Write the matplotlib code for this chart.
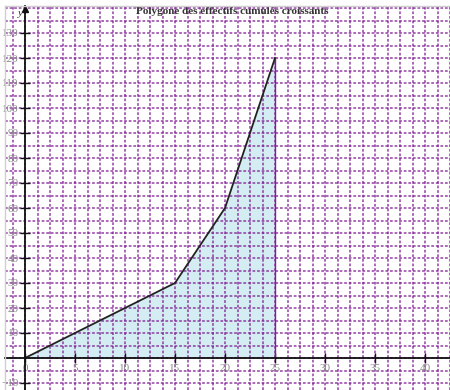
import matplotlib.pyplot as plt
import numpy as np

# effectifs cumulés croissants
bornes = [0, 15, 20, 25]
effectifs_cumules = [0, 30, 60, 120]

x_ticks = [0, 5, 10, 15, 20, 25, 30, 35, 40]
y_ticks = [-10, 10, 20, 30, 40, 50, 60, 70, 80, 90, 100, 110, 120, 130]

violet = "#801f94"
gris = "#8a8a8a"

fig = plt.figure(figsize=(4.5, 3.9), dpi=100)
ax = fig.add_axes([5 / 450, 0, 445 / 450, 384 / 390])
ax.set_xlim(-2.0, 42.5)
ax.set_ylim(-12.8, 140.8)

# quadrillage en pointillés
for gx in np.arange(-1.25, 43, 1.25):
    ax.axvline(gx, color=violet, lw=1.1, ls=(0, (1.8, 1.2)), alpha=0.85, zorder=1)
for gy in np.arange(-10, 141, 5):
    ax.axhline(gy, color=violet, lw=1.1, ls=(0, (1.8, 1.2)), alpha=0.85, zorder=1)

# surface sous le polygone
ax.fill_between(bornes, effectifs_cumules, 0, color="#d3edf2", lw=0, zorder=0.5)
ax.plot([bornes[-1], bornes[-1]], [0, effectifs_cumules[-1]], color=violet, lw=1.0, zorder=2)
ax.plot(bornes, effectifs_cumules, color="#222222", lw=1.3, zorder=3)

# axes passant par l'origine
for s in ["right", "top"]:
    ax.spines[s].set_visible(False)
ax.spines["left"].set_position(("data", 0))
ax.spines["bottom"].set_position(("data", 0))
for s in ["left", "bottom"]:
    ax.spines[s].set_color("#111111")
    ax.spines[s].set_linewidth(1.3)
    ax.spines[s].set_zorder(4)
ax.plot(0, 139.6, marker="^", color="#111111", ms=4, clip_on=False, zorder=5)

ax.set_xticks(x_ticks)
ax.set_yticks(y_ticks)
ax.tick_params(direction="inout", length=7, width=1.0, color="#111111",
               labelcolor=gris, labelsize=8, pad=1)
for lab in ax.get_xticklabels() + ax.get_yticklabels():
    lab.set_family("Liberation Serif")

# bordure grise du cadre
fig.add_artist(plt.Line2D([5 / 450, 5 / 450], [0, 384 / 390], color="#cfcfcf", lw=1.0))
fig.add_artist(plt.Line2D([5 / 450, 1], [384 / 390, 384 / 390], color="#cfcfcf", lw=1.0))

ax.text(-0.5, 138.0, "y", family="Liberation Serif", style="italic",
        fontsize=8, color="#333333", ha="center", va="center", zorder=6)
ax.text(20.7, 138.8, "Polygone des effectifs cumulés croissants", family="Liberation Serif",
        fontweight="bold", fontsize=8, color="#333333", ha="center", va="center", zorder=6)

fig.savefig("out.png", dpi=100)
